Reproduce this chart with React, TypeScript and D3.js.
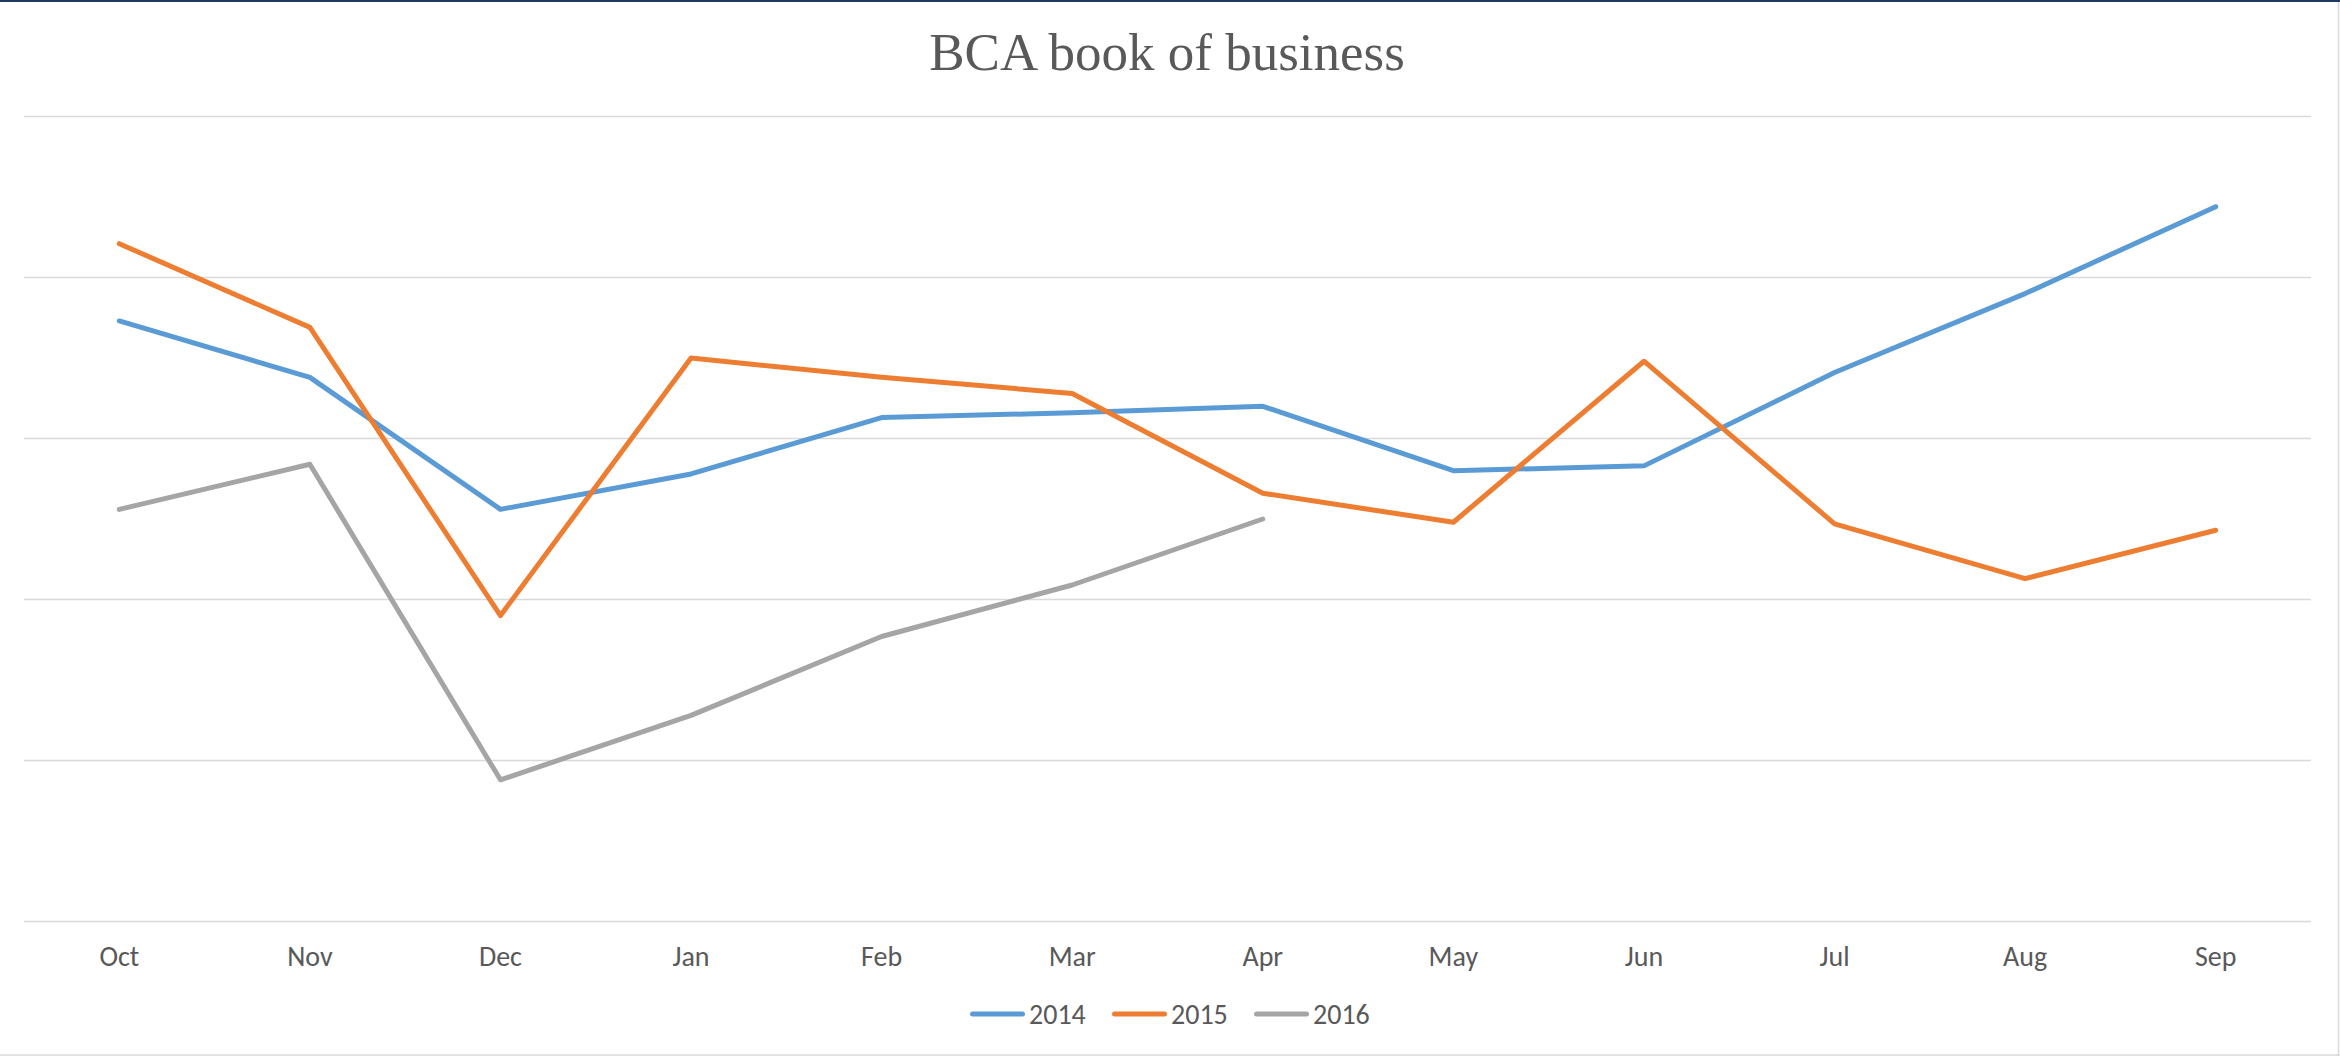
import React from "react";
import * as d3 from "d3";

const months = ["Oct", "Nov", "Dec", "Jan", "Feb", "Mar", "Apr", "May", "Jun", "Jul", "Aug", "Sep"];
const s2014 = [373, 338, 256, 278, 313, 316, 320, 280, 283, 341, 390, 444];
const s2015 = [421, 369, 190, 350, 338, 328, 266, 248, 348, 247, 213, 243];
const s2016 = [256, 284, 88, 128, 177, 209, 250];
const yTicks = [0, 100, 200, 300, 400, 500];
const seriesNames = ["2014", "2015", "2016"];
const seriesColors = ["#5b9bd5", "#ed7d31", "#a5a5a5"];
const title = "BCA book of business";

const W = 2340;
const H = 1056;

export default function App() {
  const x = d3.scaleBand<string>().domain(months).range([24, 2311]);
  const y = d3.scaleLinear().domain([0, 500]).range([921.5, 116.5]);
  const cx = (m: string) => (x(m) as number) + x.bandwidth() / 2;
  const line = d3
    .line<number>()
    .x((_, i) => cx(months[i]))
    .y((d) => y(d));
  const series = [s2014, s2015, s2016];

  return (
    <div style={{ position: "absolute", left: 0, top: 0 }}>
      <svg width={W} height={H} style={{ display: "block", background: "#fff" }}>
        <rect x={0} y={0} width={W} height={H} fill="#ffffff" />
        <line x1={0} x2={W} y1={1} y2={1} stroke="#203864" strokeWidth={2} />
        <line x1={2338.5} x2={2338.5} y1={2} y2={H} stroke="#d9d9d9" strokeWidth={1.5} />
        <line x1={0} x2={W} y1={1055} y2={1055} stroke="#d9d9d9" strokeWidth={1.5} />
        <text
          x={1167}
          y={70}
          textAnchor="middle"
          fontFamily="'Liberation Serif', 'DejaVu Serif', serif"
          fontSize={53}
          fill="#595959"
        >
          {title}
        </text>
        {yTicks.map((t) => (
          <line key={t} x1={24} x2={2311} y1={y(t)} y2={y(t)} stroke="#d9d9d9" strokeWidth={1.5} />
        ))}
        {months.map((m) => (
          <text
            key={m}
            x={cx(m)}
            y={966}
            textAnchor="middle"
            fontFamily="Carlito, Calibri, 'Liberation Sans', sans-serif"
            fontSize={28}
            fill="#595959"
          >
            {m}
          </text>
        ))}
        {series.map((s, i) => (
          <path
            key={seriesNames[i]}
            d={line(s) || ""}
            fill="none"
            stroke={seriesColors[i]}
            strokeWidth={5}
            strokeLinejoin="round"
            strokeLinecap="round"
          />
        ))}
        {seriesNames.map((n, i) => {
          const sx = 970 + i * 142;
          return (
            <g key={n}>
              <line
                x1={sx + 2.5}
                x2={sx + 52.5}
                y1={1014}
                y2={1014}
                stroke={seriesColors[i]}
                strokeWidth={5}
                strokeLinecap="round"
              />
              <text
                x={sx + 59}
                y={1023.5}
                fontFamily="Carlito, Calibri, 'Liberation Sans', sans-serif"
                fontSize={28}
                fill="#595959"
              >
                {n}
              </text>
            </g>
          );
        })}
      </svg>
    </div>
  );
}
